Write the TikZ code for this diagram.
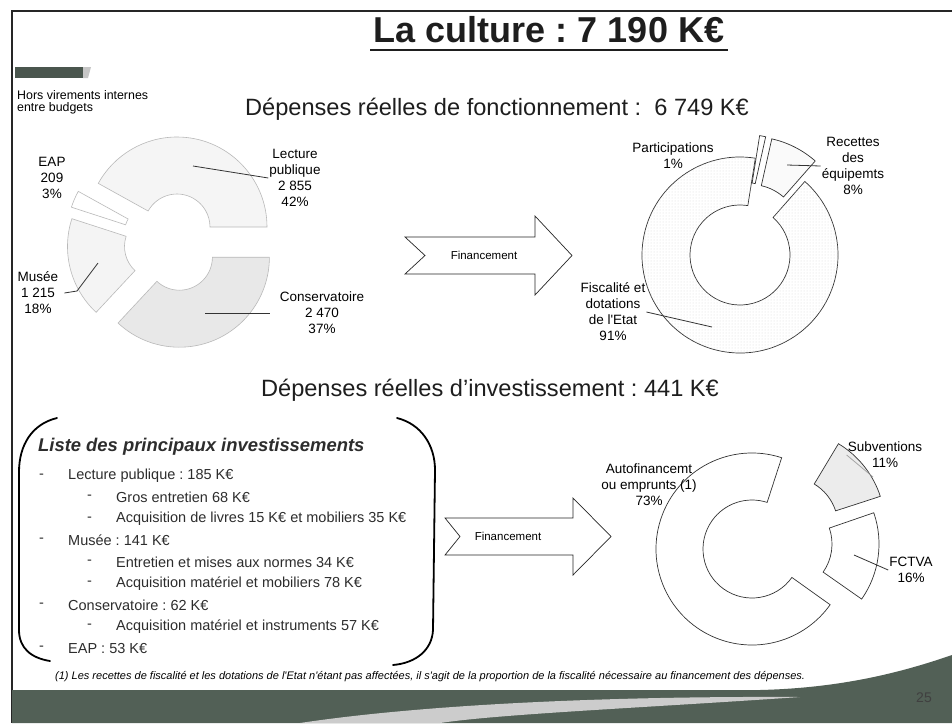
\documentclass[tikz,border=0pt]{standalone}
\usepackage{fontspec}
\setmainfont{Liberation Sans}
\usetikzlibrary{calc,patterns}
\frenchspacing

\definecolor{bandgreen}{RGB}{82,96,86}
\definecolor{headgray}{RGB}{30,30,30}
\definecolor{listgray}{RGB}{45,45,45}

% one ring sector: [style]{centre}{from}{to}{outer}{inner}
\newcommand{\donutpart}[6][]{%
  \draw[#1] (#2) ++(#3:#5) arc[start angle=#3, end angle=#4, radius=#5]
    -- ($(#2)+(#4:#6)$) arc[start angle=#4, end angle=#3, radius=#6] -- cycle;}

\begin{document}
\begin{tikzpicture}[x=1pt,y=1pt,
  slicebox/.style={draw=gray!55, line width=0.6pt},
  ringline/.style={draw=black!80, line width=0.7pt},
  leader/.style={draw=black!80, line width=0.8pt},
  bracket/.style={draw=black, line width=1.8pt, line cap=round},
  flowarrow/.style={draw=black!85, line width=0.7pt, fill=white},
  lbl/.style={align=center, inner sep=1pt, font=\fontsize{13.5}{16}\selectfont}]

\useasboundingbox (0,0) rectangle (952,-723);
\fill[white] (0,0) rectangle (952,-723);

% slide frame and bottom band
\draw[line width=2.5pt, black!85] (952,-11) -- (12,-11) -- (12,-723);
\fill[bandgreen] (12,-690) -- (760,-690) .. controls (840,-688) and (900,-673) .. (952,-655)
  -- (952,-723) -- (12,-723) -- cycle;
\fill[gray!40] (300,-723) .. controls (420,-705) and (600,-696) .. (800,-697)
  .. controls (640,-708) and (500,-714) .. (440,-723) -- cycle;
\fill[bandgreen!90!black] (15,-67) rectangle (83,-78);
\fill[gray!45] (83,-67) -- (91,-67) -- (88,-78) -- (83,-78) -- cycle;

% titles
\node (title) [anchor=base, text=headgray, font=\fontsize{36}{40}\selectfont\bfseries]
  at (549,-42) {La culture : 7 190 K€};
\draw[line width=2.2pt, headgray] ($(title.base west)+(0,-8)$) -- ($(title.base east)+(0,-8)$);
\node (head1) [anchor=base, text=headgray, font=\fontsize{23.6}{28}\selectfont]
  at (497,-115) {Dépenses réelles de fonctionnement : \ 6 749 K€};
\node (head2) [anchor=base, text=headgray, font=\fontsize{23.6}{28}\selectfont]
  at (490,-396) {Dépenses réelles d’investissement : 441 K€};
\node (note) [anchor=north west, align=left, inner sep=0pt, font=\fontsize{12.4}{12}\selectfont]
  at (17,-90) {Hors virements internes\\entre budgets};

% depenses de fonctionnement
\donutpart[slicebox, fill=gray!8]{177,-227}{0}{151}{90}{33}
\donutpart[slicebox, fill=gray!18]{179.4,-257.2}{-133}{0}{90}{33}
\donutpart[slicebox, fill=gray!9]{157.5,-246.5}{162}{227}{90}{33}
\donutpart[slicebox, fill=white]{157,-235}{151}{162}{90}{33}

\begin{scope}[every node/.style={lbl}]
  \node (eapLbl) at (52,-178) {EAP\\209\\3\%};
  \node (lpLbl) at (295,-178) {Lecture\\publique\\2 855\\42\%};
  \node (museeLbl) at (38,-293) {Musée\\1 215\\18\%};
  \node (consLbl) at (322,-313) {Conservatoire\\2 470\\37\%};
\end{scope}
\coordinate (lpIn) at (193,-166);
\coordinate (consIn) at (205,-313);
\coordinate (museeIn) at (98,-263);
\coordinate (museeBend) at (77,-291);
\path (lpIn) edge[leader] (lpLbl.west);
\path (consIn) edge[leader] ($(consLbl.west)+(-9,0)$);
\draw[leader] (museeIn) -- (museeBend) -- ($(museeLbl.east)+(5,0)$);

% financement du fonctionnement
\draw[flowarrow] (405,-237) -- (535,-237) -- (535,-216) -- (572,-255.5) -- (535,-295)
  -- (535,-274) -- (405,-274) -- (425,-255.5) -- cycle;
\node (fin1) [font=\fontsize{11.5}{13}\selectfont] at (484,-255.5) {Financement};

\donutpart[ringline, fill=white, postaction={pattern=dots, pattern color=gray!30}]{740,-255}{81}{408.6}{98}{50}
\donutpart[ringline, fill=white]{744.3,-232.4}{77.4}{81}{98}{50}
\donutpart[ringline, fill=gray!4]{750.4,-234.5}{48.6}{77.4}{98}{50}

\begin{scope}[every node/.style={lbl}]
  \node (partLbl) at (673,-156) {Participations\\1\%};
  \node (recLbl) at (853,-166) {Recettes\\des\\équipemts\\8\%};
  \node (fiscLbl) at (613,-312) {Fiscalité et\\dotations\\de l\textquotesingle Etat\\91\%};
\end{scope}
\coordinate (recIn) at (787,-165);
\coordinate (fiscIn) at (712,-327);
\path (recIn) edge[leader] (recLbl.west);
\path (fiscIn) edge[leader] (fiscLbl.east);

% liste des investissements
\draw[bracket] (57,-418) .. controls (32,-424) and (19,-445) .. (19,-472) -- (19,-630)
  .. controls (19,-648) and (31,-658) .. (50,-661);
\draw[bracket] (397,-418) .. controls (421,-424) and (435,-445) .. (435,-470) -- (433,-630)
  .. controls (432,-650) and (416,-663) .. (393,-665);
\node (listHead) [anchor=west, inner sep=0pt, text=listgray,
  font=\fontsize{18.4}{22}\selectfont\bfseries\itshape] at (38,-447) {Liste des principaux investissements};
\begin{scope}[every node/.style={anchor=west, inner sep=0pt, text=listgray,
    font=\fontsize{14.5}{17}\selectfont}]
  \foreach \lvl/\txt [count=\i] in {
      1/Lecture publique : 185 K€,
      2/Gros entretien 68 K€,
      2/Acquisition de livres 15 K€ et mobiliers 35 K€,
      1/Musée : 141 K€,
      2/Entretien et mises aux normes 34 K€,
      2/Acquisition matériel et mobiliers 78 K€,
      1/Conservatoire : 62 K€,
      2/Acquisition matériel et instruments 57 K€,
      1/EAP : 53 K€} {
    \node (dash\i) at ({39+48*(\lvl-1)}, {-476-21.5*(\i-1)}) {-};
    \node (item\i) at ({68+48*(\lvl-1)}, {-476-21.5*(\i-1)}) {\txt};
  }
\end{scope}

% financement de l'investissement
\draw[flowarrow] (445,-518) -- (573,-518) -- (573,-498) -- (611,-536.5) -- (573,-575)
  -- (573,-555) -- (445,-555) -- (460,-536.5) -- cycle;
\node (fin2) [font=\fontsize{11.5}{13}\selectfont] at (508,-536.5) {Financement};

\donutpart[ringline, fill=white]{752,-549}{72}{324.5}{96}{49}
\donutpart[ringline, fill=gray!15]{789,-526}{18}{59}{96}{49}
\donutpart[ringline, fill=white]{783,-544}{-35}{19}{96}{49}

\begin{scope}[every node/.style={lbl}]
  \node (autoLbl) at (649,-485) {Autofinancemt\\ou emprunts (1)\\73\%};
  \node (subvLbl) at (885,-455) {Subventions\\11\%};
  \node (fctvaLbl) at (911,-570) {FCTVA\\16\%};
\end{scope}
\coordinate (subvIn) at (873,-477);
\coordinate (fctvaIn) at (854,-555);
\path (subvLbl.west) edge[leader, draw=gray!70] (subvIn);
\path (fctvaIn) edge[leader] (fctvaLbl.west);

% footnote and page number
\node (footnote) [anchor=west, inner sep=0pt, font=\fontsize{11}{13}\selectfont\itshape]
  at (55,-677) {(1) Les recettes de fiscalité et les dotations de l\textquotesingle Etat n\textquotesingle étant pas affectées, il s\textquotesingle agit de la proportion de la fiscalité nécessaire au financement des dépenses.};
\node (pageNo) [text=black!75, font=\fontsize{14}{16}\selectfont] at (924,-698) {25};
\end{tikzpicture}
\end{document}
